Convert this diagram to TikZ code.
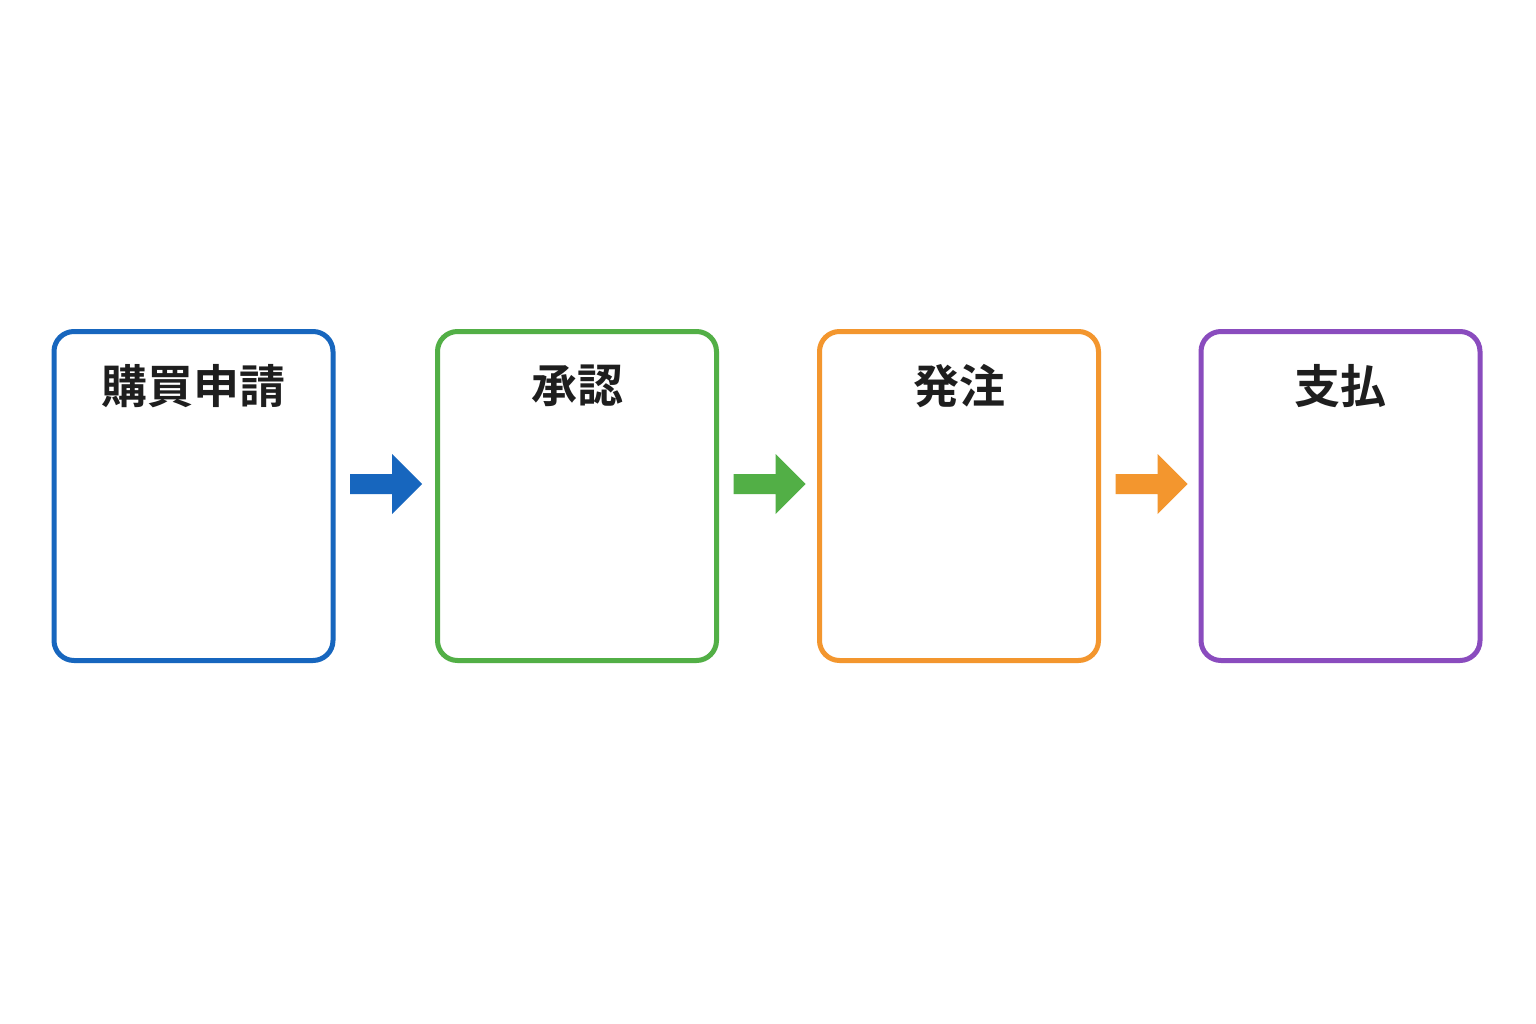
\documentclass[tikz,border=0pt]{standalone}
\usepackage{fontspec}
\newfontfamily\cjk{Noto Sans CJK JP Bold}
\usetikzlibrary{calc}
\definecolor{cblue}{HTML}{1766BE}
\definecolor{cgreen}{HTML}{52AF46}
\definecolor{corange}{HTML}{F3962E}
\definecolor{cpurple}{HTML}{8A4CBE}
\definecolor{ctext}{HTML}{1E1E1E}
\tikzset{
  stagebox/.style={draw=#1, line width=3.75pt, rounded corners=15pt, fill=white,
    minimum width=209.25pt, minimum height=246.75pt, inner sep=0pt},
  stagetitle/.style={font=\cjk\fontsize{34.5pt}{37pt}\selectfont, text=ctext, inner sep=0pt, anchor=center},
}
\newcommand{\blockarrow}[3]{%
  \fill[#1] ($(#2.east)+(14.5,0)$) coordinate (s) 
    (s |- 0,474) -- ++(42,0) -- ++(0,-20) -- ++(30,30) -- ++(-30,30) -- ++(0,-20) -- ++(-42,0) -- cycle;
}
\begin{document}
\begin{tikzpicture}[x=0.75pt,y=-0.75pt]
\fill[white] (0,0) rectangle (1536,1024);
\useasboundingbox (0,0) rectangle (1536,1024);
\node[stagebox=cblue] (b1) at (193.5,496) {};
\node[stagebox=cgreen] (b2) at (577,496) {};
\node[stagebox=corange] (b3) at (959,496) {};
\node[stagebox=cpurple] (b4) at (1340.5,496) {};
\node[stagetitle] (t1) at (b1 |- 0,386) {購買申請};
\node[stagetitle] (t2) at (b2 |- 0,386) {承認};
\node[stagetitle] (t3) at (b3 |- 0,386) {発注};
\node[stagetitle] (t4) at (b4 |- 0,386) {支払};
\blockarrow{cblue}{b1}{b2}
\blockarrow{cgreen}{b2}{b3}
\blockarrow{corange}{b3}{b4}
\end{tikzpicture}
\end{document}
